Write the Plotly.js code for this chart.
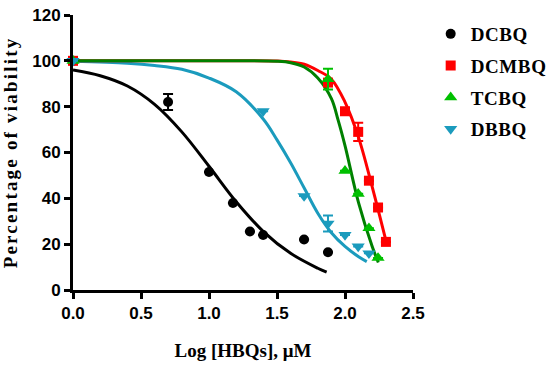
<!DOCTYPE html>
<html>
<head>
<meta charset="utf-8">
<script src="https://cdn.plot.ly/plotly-3.0.1.min.js"></script>
<style>
html,body{margin:0;padding:0;background:#fff;}
#chart{width:552px;height:368px;}
.g-ytitle text{letter-spacing:2.2px;}
.legendtext{letter-spacing:0.6px;}
</style>
</head>
<body>
<div id="chart"></div>
<script>
// ---- data ----
const seriesNames = ["DCBQ", "DCMBQ", "TCBQ", "DBBQ"];

// measured points (log concentration, % viability, error)
const dcbqX = [0, 0.699, 1.0, 1.176, 1.301, 1.398, 1.699, 1.875];
const dcbqY = [100, 82, 51.5, 38, 25.5, 24, 22, 16.5];
const dcbqErr = [0, 3.5, 0, 0, 0, 0, 0, 0];

const dcmbqX = [0, 1.875, 2.0, 2.097, 2.176, 2.243, 2.301];
const dcmbqY = [100, 90.5, 78, 69, 47.7, 36, 21];
const dcmbqErr = [0, 0, 0, 4, 0, 0, 0];

const tcbqX = [0, 1.875, 2.0, 2.097, 2.176, 2.243];
const tcbqY = [100, 92, 52, 42, 27, 14];
const tcbqErr = [0, 4.5, 0, 0, 0, 0];

const dbbqX = [0, 1.398, 1.699, 1.875, 2.0, 2.097, 2.176];
const dbbqY = [100, 78, 41, 29, 24, 19, 16];
const dbbqErr = [0, 0, 0, 3.5, 0, 0, 0];

// fitted curves
const dcbqFitX = [0, 0.2, 0.4, 0.6, 0.8, 1.0, 1.2, 1.4, 1.6, 1.8, 1.865];
const dcbqFitY = [96, 93.5, 89, 81, 69, 54, 38.5, 25.5, 16, 9.5, 7.8];

const dcmbqFitX = [0, 0.5, 1.0, 1.5, 1.6, 1.7, 1.8, 1.9, 2.0, 2.1, 2.2, 2.301];
const dcmbqFitY = [100, 100, 100, 99.9, 99.5, 98.5, 95.8, 92, 82, 66.5, 45, 21.5];

const tcbqFitX = [0, 0.5, 1.0, 1.5, 1.6, 1.7, 1.8, 1.9, 1.95, 2.0, 2.1, 2.2, 2.245];
const tcbqFitY = [100, 100, 100, 99.8, 99.2, 97.3, 92.5, 83.5, 74, 63, 38, 19, 12];

const dbbqFitX = [0, 0.4, 0.6, 0.8, 1.0, 1.2, 1.4, 1.5, 1.6, 1.7, 1.8, 1.9, 2.0, 2.1, 2.16];
const dbbqFitY = [99.8, 99, 98, 96.3, 92.5, 86.5, 74.5, 65.5, 55.5, 44.5, 33.5, 25, 19, 14.5, 12.4];

const xTicks = [0, 0.5, 1.0, 1.5, 2.0, 2.5];
const xTickText = ["0.0", "0.5", "1.0", "1.5", "2.0", "2.5"];
const yTicks = [0, 20, 40, 60, 80, 100, 120];

// ---- styles ----
const colBlack = "#000000", colRed = "#ff0000", colGreenM = "#00c000", colGreenL = "#008000", colBlue = "#1b9bbd";

function curve(x, y, color) {
  return {x: x, y: y, type: "scatter", mode: "lines", showlegend: false, hoverinfo: "skip",
          line: {color: color, width: 3, shape: "spline", smoothing: 1}, cliponaxis: false};
}
function pts(x, y, err, name, color, symbol, group, size) {
  return {x: x, y: y, type: "scatter", mode: "markers", name: name, legendgroup: group,
          marker: {color: color, symbol: symbol, size: size, line: {width: 0}},
          error_y: {type: "data", array: err, visible: true, color: color, thickness: 2, width: 5},
          cliponaxis: false};
}

const data = [
  curve(dcbqFitX, dcbqFitY, colBlack),
  curve(dbbqFitX, dbbqFitY, colBlue),
  curve(dcmbqFitX, dcmbqFitY, colRed),
  curve(tcbqFitX, tcbqFitY, colGreenL),
  pts(dcbqX, dcbqY, dcbqErr, seriesNames[0], colBlack, "circle", "g1", 10),
  pts(dcmbqX, dcmbqY, dcmbqErr, seriesNames[1], colRed, "square", "g2", 10),
  pts(tcbqX, tcbqY, tcbqErr, seriesNames[2], colGreenM, "triangle-up", "g3", 11.5),
  pts(dbbqX, dbbqY, dbbqErr, seriesNames[3], colBlue, "triangle-down", "g4", 11.5)
];

const tickFont = {family: "Liberation Sans, Arial, sans-serif", size: 17, color: "#000", weight: "bold"};
const titleFont = {family: "Liberation Serif, Times New Roman, serif", size: 19, color: "#000", weight: "bold"};

const layout = {
  width: 552, height: 368,
  margin: {l: 73, r: 139, t: 15, b: 78, autoexpand: false},
  paper_bgcolor: "#fff", plot_bgcolor: "#fff",
  showlegend: true,
  legend: {x: 1.052, y: 1.0, xanchor: "left", yanchor: "top", traceorder: "grouped", tracegroupgap: 4,
           font: {family: "Liberation Serif, Times New Roman, serif", size: 19, color: "#000", weight: "bold"},
           bgcolor: "rgba(0,0,0,0)"},
  xaxis: {range: [0, 2.5], tickvals: xTicks, ticktext: xTickText, showgrid: false, zeroline: false,
          showline: true, linewidth: 3, linecolor: "#000", ticks: "outside", ticklen: 6, tickwidth: 3, tickcolor: "#000",
          tickfont: tickFont, title: {text: "Log [HBQs], μM", font: titleFont, standoff: 22}},
  yaxis: {range: [0, 120], tickvals: yTicks, showgrid: false, zeroline: false,
          showline: true, linewidth: 3, linecolor: "#000", ticks: "outside", ticklen: 6, tickwidth: 3, tickcolor: "#000",
          tickfont: tickFont, title: {text: "Percentage of viability", font: titleFont, standoff: 12}}
};

Plotly.newPlot("chart", data, layout, {displayModeBar: false, staticPlot: true});
</script>
</body>
</html>
